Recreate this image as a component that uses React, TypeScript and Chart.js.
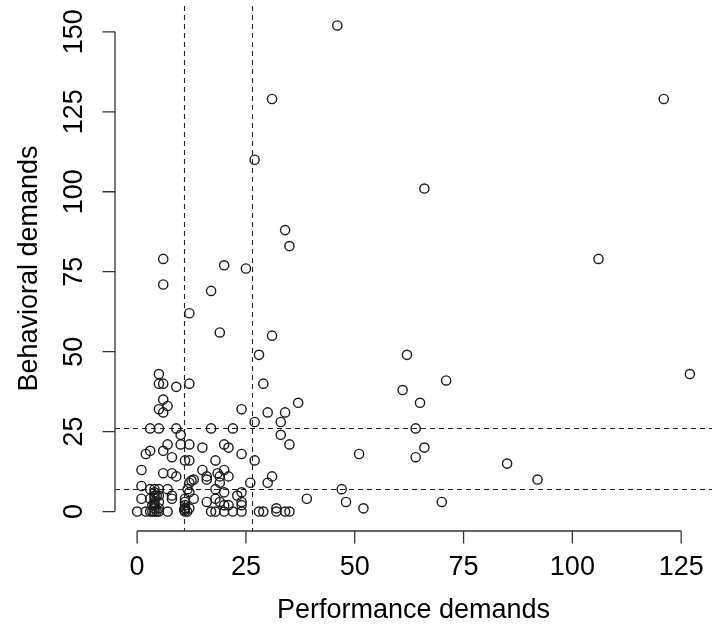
import React, { useEffect, useRef } from "react";
import { Chart, registerables } from "chart.js";

Chart.register(...registerables);

// Performance demands (x) and Behavioral demands (y)
const performance: number[] = [
  46, 31, 121, 27, 66, 34, 35, 106, 6, 20, 25, 6, 17, 12, 19, 31, 62, 28, 127, 5, 71,
  5, 6, 12, 29, 9, 61, 6, 37, 65, 7, 24, 5, 6, 30, 34, 27, 33,
  3, 5, 9, 17, 22, 64, 10, 33,
  7, 10, 12, 20, 35, 21, 15, 66, 3, 6, 2, 24, 51, 8, 64,
  11, 12, 18, 27, 85, 1, 15, 20, 6, 8, 9, 19, 21, 31,
  13, 16, 16, 92, 12, 19, 26, 30, 12.5,
  1, 3, 5, 7, 18, 47, 11.6,
  8, 12, 24, 4, 4, 1, 3, 4, 8, 18, 39,
  4, 5, 11, 16, 19, 24, 48, 70,
  4, 11, 20, 21, 24, 11, 32, 52, 5, 12,
  0, 2, 3, 4, 4.5, 5, 7, 11, 11.5, 17, 18, 20, 22, 24, 28, 29, 32, 34, 35, 3.5,
  4, 4, 4.5, 3.5, 11, 11, 10.8, 5, 4, 18.5, 13, 20, 23,
];
const behavioral: number[] = [
  152, 129, 129, 110, 101, 88, 83, 79, 79, 77, 76, 71, 69, 62, 56, 55, 49, 49, 43, 43, 41,
  40, 40, 40, 40, 39, 38, 35, 34, 34, 33, 32, 32, 31, 31, 31, 28, 28,
  26, 26, 26, 26, 26, 26, 24, 24,
  21, 21, 21, 21, 21, 20, 20, 20, 19, 19, 18, 18, 18, 17, 17,
  16, 16, 16, 16, 15, 13, 13, 13, 12, 12, 11, 11, 11, 11,
  10, 10, 11, 10, 9, 9, 9, 9, 9.7,
  8, 7, 7, 7, 7, 7, 7,
  5, 6, 6, 6, 5, 4, 4, 4, 4, 4, 4,
  3, 3, 3, 3, 3, 3, 3, 3,
  2, 2, 2, 2, 2, 1, 1, 1, 1, 1,
  0, 0, 0, 0, 0, 0, 0, 0, 0, 0, 0, 0, 0, 0, 0, 0, 0, 0, 0, 0,
  1, 7, 5, 2, 4, 1, 0.5, 5, 2, 12, 4, 6, 5,
];

const xTicks: number[] = [0, 25, 50, 75, 100, 125];
const yTicks: number[] = [0, 25, 50, 75, 100, 125, 150];
const xCutoffs: number[] = [10.7, 26.3];
const yCutoffs: number[] = [7.1, 26];
const xTitle = "Performance demands";
const yTitle = "Behavioral demands";

const FONT = '27px "Liberation Sans", Arial, Helvetica, sans-serif';

const axesPlugin = {
  id: "rAxes",
  beforeDatasetsDraw(chart: any) {
    const { ctx, chartArea } = chart;
    const xs = chart.scales.x;
    const ys = chart.scales.y;
    ctx.save();
    ctx.beginPath();
    ctx.rect(chartArea.left, chartArea.top, chartArea.right - chartArea.left, chartArea.bottom - chartArea.top);
    ctx.clip();
    ctx.strokeStyle = "#222";
    ctx.lineWidth = 1.1;
    ctx.setLineDash([5, 4]);
    for (const v of xCutoffs) {
      const px = Math.round(xs.getPixelForValue(v)) + 0.5;
      ctx.beginPath();
      ctx.moveTo(px, chartArea.top);
      ctx.lineTo(px, chartArea.bottom);
      ctx.stroke();
    }
    for (const v of yCutoffs) {
      const py = Math.round(ys.getPixelForValue(v)) + 0.5;
      ctx.beginPath();
      ctx.moveTo(chartArea.left, py);
      ctx.lineTo(chartArea.right, py);
      ctx.stroke();
    }
    ctx.restore();
  },
  afterDraw(chart: any) {
    const { ctx, chartArea } = chart;
    const xs = chart.scales.x;
    const ys = chart.scales.y;
    ctx.save();
    ctx.strokeStyle = "#333";
    ctx.lineWidth = 1.3;
    ctx.setLineDash([]);
    const tick = 12.5;
    // x axis
    const ay = chartArea.bottom;
    ctx.beginPath();
    ctx.moveTo(xs.getPixelForValue(xTicks[0]), ay);
    ctx.lineTo(xs.getPixelForValue(xTicks[xTicks.length - 1]), ay);
    for (const v of xTicks) {
      const px = xs.getPixelForValue(v);
      ctx.moveTo(px, ay);
      ctx.lineTo(px, ay + tick);
    }
    ctx.stroke();
    // y axis
    const ax = chartArea.left;
    ctx.beginPath();
    ctx.moveTo(ax, ys.getPixelForValue(yTicks[0]));
    ctx.lineTo(ax, ys.getPixelForValue(yTicks[yTicks.length - 1]));
    for (const v of yTicks) {
      const py = ys.getPixelForValue(v);
      ctx.moveTo(ax, py);
      ctx.lineTo(ax - tick, py);
    }
    ctx.stroke();

    ctx.fillStyle = "#000";
    ctx.font = FONT;
    ctx.textAlign = "center";
    ctx.textBaseline = "middle";
    for (const v of xTicks) {
      ctx.fillText(String(v), xs.getPixelForValue(v), ay + 37);
    }
    ctx.fillText(xTitle, (chartArea.left + chartArea.right) / 2, ay + 80);
    for (const v of yTicks) {
      ctx.save();
      ctx.translate(ax - 40, ys.getPixelForValue(v));
      ctx.rotate(-Math.PI / 2);
      ctx.fillText(String(v), 0, 0);
      ctx.restore();
    }
    ctx.save();
    ctx.translate(30, (chartArea.top + chartArea.bottom) / 2);
    ctx.rotate(-Math.PI / 2);
    ctx.fillText(yTitle, 0, 0);
    ctx.restore();
    ctx.restore();
  },
};

export default function App() {
  const ref = useRef<HTMLCanvasElement | null>(null);
  useEffect(() => {
    document.body.style.margin = "0";
    const points = performance.map((x, i) => ({ x, y: behavioral[i] }));
    const chart = new Chart(ref.current as HTMLCanvasElement, {
      type: "scatter",
      data: {
        datasets: [
          {
            data: points,
            pointRadius: 4.6,
            pointHoverRadius: 4.6,
            pointBorderWidth: 1.4,
            pointBorderColor: "#1a1a1a",
            pointBackgroundColor: "rgba(0,0,0,0)",
          },
        ],
      },
      options: {
        animation: false,
        responsive: false,
        layout: { padding: { left: 115, top: 5, right: 1, bottom: 105 } },
        plugins: { legend: { display: false }, tooltip: { enabled: false } },
        scales: {
          x: { type: "linear", min: -5.08, max: 132.08, display: false },
          y: { type: "linear", min: -6.08, max: 158.08, display: false },
        },
      },
      plugins: [axesPlugin],
    });
    return () => chart.destroy();
  }, []);
  return (
    <div style={{ position: "absolute", left: 0, top: 0, width: 718, height: 636, background: "#fff" }}>
      <canvas ref={ref} width={718} height={636} style={{ width: 718, height: 636 }} />
    </div>
  );
}
